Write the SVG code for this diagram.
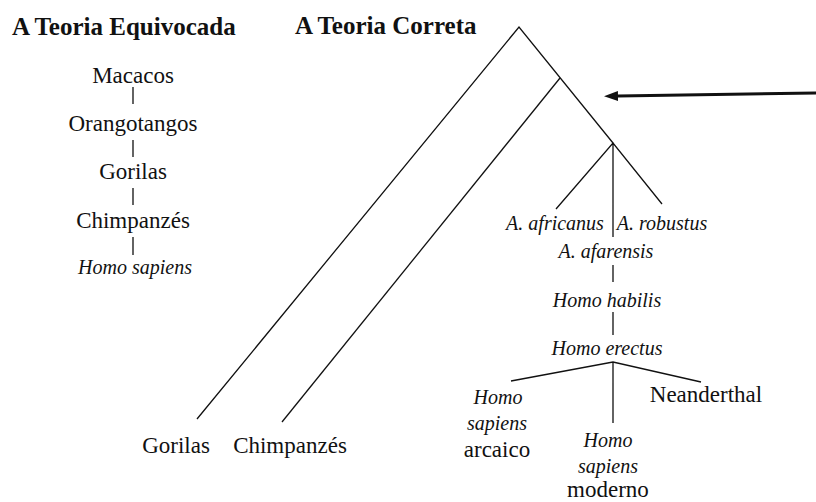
<svg xmlns="http://www.w3.org/2000/svg" width="816" height="502" viewBox="0 0 816 502">
<style>
text{font-family:"Liberation Serif","DejaVu Serif",serif;fill:#111}
.t{font-size:25px;font-weight:bold}
.u{font-size:23px;text-anchor:middle}
.i{font-size:20px;font-style:italic;text-anchor:middle}
.l{stroke:#111;stroke-width:1.3;fill:none}
</style>
<defs>
<marker id="ah" markerWidth="14" markerHeight="10" refX="0" refY="5" orient="auto" markerUnits="userSpaceOnUse">
<path d="M0,0 L14,5 L0,10 Z" fill="#111"/>
</marker>
</defs>
<rect width="816" height="502" fill="#fff"/>
<text class="t" x="12" y="35">A Teoria Equivocada</text>
<text class="t" x="295" y="34">A Teoria Correta</text>
<g id="wrong">
<g id="macacos"><text class="u" x="133" y="83">Macacos</text></g>
<g id="orangotangos"><text class="u" x="133" y="131">Orangotangos</text></g>
<g id="gorilas1"><text class="u" x="133" y="179">Gorilas</text></g>
<g id="chimp1"><text class="u" x="133" y="228">Chimpanzés</text></g>
<g id="homo1"><text class="i" x="135" y="274">Homo sapiens</text></g>
</g>
<g id="gorilas2"><text class="u" x="176" y="453">Gorilas</text></g>
<g id="chimp2"><text class="u" x="290" y="453">Chimpanzés</text></g>
<g id="africanus"><text class="i" x="555" y="230">A. africanus</text></g>
<g id="robustus"><text class="i" x="662" y="230">A. robustus</text></g>
<g id="afarensis"><text class="i" x="606" y="258">A. afarensis</text></g>
<g id="habilis"><text class="i" x="607" y="307">Homo habilis</text></g>
<g id="erectus"><text class="i" x="607" y="355">Homo erectus</text></g>
<g id="neanderthal"><text class="u" x="706" y="402">Neanderthal</text></g>
<g id="arcaico">
<text class="i" x="498" y="404">Homo</text>
<text class="i" x="497" y="430">sapiens</text>
<text class="u" x="497" y="457">arcaico</text>
</g>
<g id="moderno">
<text class="i" x="608" y="447">Homo</text>
<text class="i" x="608" y="473">sapiens</text>
<text class="u" x="608" y="497">moderno</text>
</g>
<g id="connectors">
<path class="l" d="M133,87V104 M133,140V157 M133,188V205 M133,237V255"/>
<path class="l" d="M197,419 L519,27 L613,143"/>
<path class="l" d="M282,422 L560,78"/>
<path class="l" d="M556,209 L613,143 L662,204 M613,143 V237"/>
<path class="l" d="M613,265V282 M613,312V335"/>
<path class="l" d="M511,381 L613,362 L701,382 M613,362 V423"/>
<line x1="816" y1="93" x2="618" y2="96" stroke="#111" stroke-width="3" marker-end="url(#ah)"/>
</g>
</svg>
